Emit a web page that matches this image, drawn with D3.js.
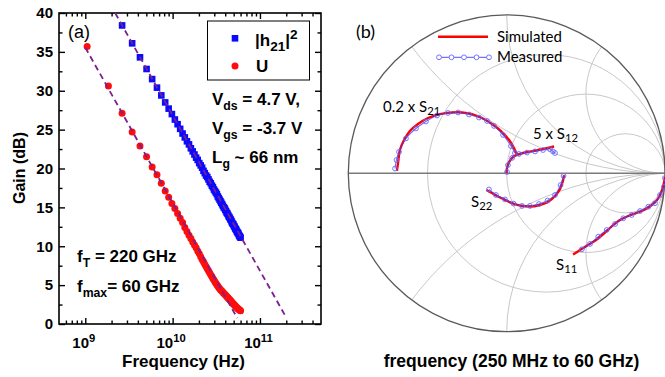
<!DOCTYPE html>
<html>
<head>
<meta charset="utf-8">
<script src="https://cdn.jsdelivr.net/npm/d3@7"></script>
<style>
  body { margin: 0; background: #fff; }
  svg { display: block; }
  .arial { font-family: "Liberation Sans", Arial, sans-serif; }
  .cal { font-family: Lato, "Open Sans", sans-serif; }
</style>
</head>
<body>
<svg id="fig" width="665" height="377"></svg>
<script>
// ---------- data: panel (a), sweep 250 MHz .. 60 GHz
const freq_ghz = [0.25, 1.05, 1.84, 2.64, 3.44, 4.23, 5.03, 5.83, 6.62, 7.42, 8.22, 9.01, 9.81, 10.61,
    11.40, 12.20, 13.00, 13.79, 14.59, 15.39, 16.18, 16.98, 17.78, 18.57, 19.37, 20.17, 20.96, 21.76,
    22.56, 23.35, 24.15, 24.95, 25.74, 26.54, 27.34, 28.13, 28.93, 29.73, 30.52, 31.32, 32.12, 32.91,
    33.71, 34.51, 35.30, 36.10, 36.90, 37.69, 38.49, 39.29, 40.08, 40.88, 41.68, 42.47, 43.27, 44.07,
    44.86, 45.66, 46.46, 47.25, 48.05, 48.85, 49.64, 50.44, 51.24, 52.03, 52.83, 53.63, 54.42, 55.22,
    56.02, 56.81, 57.61, 58.41, 59.20, 60.00]

// |h21|^2 (dB), null = above the plot
const h21_db = [null, null, null, 38.4, 36.1, 34.3, 32.8, 31.5, 30.4, 29.4, 28.5, 27.7, 27.0, 26.3,
    25.7, 25.1, 24.5, 24.0, 23.5, 23.1, 22.6, 22.2, 21.8, 21.4, 21.1, 20.7, 20.4, 20.1, 19.7, 19.4,
    19.1, 18.9, 18.6, 18.3, 18.1, 17.8, 17.6, 17.3, 17.1, 16.9, 16.7, 16.4, 16.2, 16.0, 15.8, 15.6,
    15.4, 15.2, 15.0, 14.9, 14.7, 14.5, 14.3, 14.2, 14.0, 13.8, 13.7, 13.5, 13.4, 13.2, 13.0, 12.9,
    12.8, 12.6, 12.5, 12.3, 12.2, 12.1, 11.9, 11.8, 11.7, 11.6, 11.4, 11.3, 11.2, 11.1]

// U (dB)
const u_db = [null, 35.7, 30.6, 27.1, 24.7, 22.9, 21.5, 20.2, 19.2, 18.1, 17.1, 16.3, 15.5, 14.85,
    14.2, 13.6, 13.05, 12.4, 11.9, 11.4, 11.0, 10.55, 10.15, 9.8, 9.4, 9.05, 8.65, 8.3, 8.0, 7.7,
    7.4, 7.1, 6.85, 6.6, 6.35, 6.1, 5.85, 5.65, 5.45, 5.25, 5.05, 4.9, 4.7, 4.55, 4.4, 4.3, 4.2,
    4.05, 3.95, 3.85, 3.75, 3.65, 3.55, 3.45, 3.35, 3.25, 3.15, 3.05, 2.95, 2.85, 2.75, 2.65, 2.6,
    2.5, 2.4, 2.35, 2.25, 2.2, 2.1, 2.05, 1.95, 1.9, 1.85, 1.8, 1.75, 1.7]

// -20 dB/dec extrapolations [GHz, dB]
const fit_h21 = [[2.2, 40], [200, 0.83]]
const fit_u = [[1.0, 35.56], [55, 0.76]]

const y_ticks = [0, 5, 10, 15, 20, 25, 30, 35, 40]
const x_ticks = [1e9, 1e10, 1e11]

// ---------- data: panel (b), reflection coefficient [re, im]
const s21_sim = [[-0.693, 0.015], [-0.686, 0.065], [-0.674, 0.147], [-0.648, 0.210], [-0.611, 0.267],
    [-0.560, 0.311], [-0.497, 0.349], [-0.421, 0.374], [-0.345, 0.384], [-0.282, 0.384], [-0.219, 0.374],
    [-0.156, 0.349], [-0.093, 0.311], [-0.036, 0.267], [0.015, 0.210], [0.046, 0.160], [0.065, 0.116]]
const s21_meas = [[-0.705, 0.030], [-0.696, 0.084], [-0.680, 0.135], [-0.636, 0.220], [-0.573, 0.283],
    [-0.510, 0.327], [-0.440, 0.365], [-0.371, 0.381], [-0.307, 0.384], [-0.238, 0.371], [-0.175, 0.352],
    [-0.124, 0.330], [-0.080, 0.299], [-0.023, 0.242], [0.027, 0.172], [0.052, 0.128]]

const s12_sim = [[-0.001, 0.002], [0.002, 0.033], [0.015, 0.071], [0.040, 0.103], [0.065, 0.116],
    [0.103, 0.128], [0.154, 0.138], [0.210, 0.150], [0.261, 0.160], [0.299, 0.169]]
const s12_meas = [[0.002, 0.008], [0.008, 0.052], [0.034, 0.097], [0.078, 0.122], [0.128, 0.131],
    [0.179, 0.138], [0.229, 0.147], [0.273, 0.153], [0.292, 0.138], [0.305, 0.128]]

const s22_sim = [[-0.128, -0.105], [-0.099, -0.121], [-0.061, -0.143], [-0.017, -0.165], [0.034, -0.188],
    [0.084, -0.203], [0.147, -0.210], [0.210, -0.200], [0.261, -0.181], [0.305, -0.143], [0.337, -0.099],
    [0.355, -0.049], [0.362, -0.011]]
const s22_meas = [[-0.112, -0.102], [-0.068, -0.137], [-0.011, -0.165], [0.043, -0.191], [0.097, -0.206],
    [0.147, -0.206], [0.204, -0.194], [0.258, -0.172], [0.305, -0.137], [0.340, -0.074], [0.359, -0.017]]

const s11_sim = [[0.419, -0.513], [0.463, -0.484], [0.513, -0.453], [0.564, -0.421], [0.614, -0.380],
    [0.665, -0.333], [0.715, -0.295], [0.766, -0.270], [0.816, -0.251], [0.867, -0.232], [0.911, -0.203],
    [0.949, -0.169], [0.974, -0.124], [0.990, -0.074], [0.999, -0.023]]
const s11_meas = [[0.474, -0.480], [0.526, -0.446], [0.578, -0.400], [0.631, -0.358], [0.684, -0.320],
    [0.736, -0.284], [0.789, -0.263], [0.842, -0.238], [0.894, -0.211], [0.936, -0.189], [0.968, -0.137],
    [0.993, -0.085], [0.999, -0.030]]

// smith grid values
const r_circles = [1 / 3, 1, 3]
const x_arcs = [0.5, 1, 2, -0.5, -1, -2]

const svg = d3.select("#fig")

// text with sub/superscript parts: [[str, "sub"|"sup"|null], ...]
function rich_text(parent, x, y, parts, size, {weight="normal", cls="arial", anchor="start", small=0.72, drop=0.3}={}) {
    let t = parent.append("text").attr("class", cls)
        .attr("x", x).attr("y", y).attr("fill", "#000")
        .attr("font-size", size).attr("font-weight", weight)
        .attr("text-anchor", anchor)
    let shift = 0
    parts.forEach(([s, kind]) => {
        let target = kind === "sub" ? size * drop : kind === "sup" ? -size * 0.42 : 0
        t.append("tspan")
            .attr("dy", target - shift)
            .attr("font-size", kind ? size * small : size)
            .text(s)
        shift = target
    })
    return t
}

// ================= panel (a)
const pa = svg.append("g")
const x = d3.scaleLog().domain([5e8, 5e11]).range([59, 321])
const y = d3.scaleLinear().domain([0, 40]).range([324, 13])

const minor_x = []
;[1e8, 1e9, 1e10, 1e11].forEach(d => {
    for (let m = 2; m <= 9; m++) {
        let v = m * d
        if (v > 5e8 && v < 5e11 && !x_ticks.includes(v)) minor_x.push(v)
    }
})
const minor_y = y_ticks.slice(0, -1).map(d => d + 2.5)

function style_axis(g) {
    g.select(".domain").remove()
    g.selectAll(".tick line").attr("stroke", "#000").attr("stroke-width", 1.4)
}

// left
pa.append("g").attr("transform", "translate(59,0)")
    .call(d3.axisLeft(y).tickValues(y_ticks).tickSize(-6).tickPadding(6))
    .call(style_axis)
    .call(g => g.selectAll(".tick text").attr("class", "arial")
        .attr("font-size", 15).attr("font-weight", "bold").attr("fill", "#000"))
pa.append("g").attr("transform", "translate(59,0)")
    .call(d3.axisLeft(y).tickValues(minor_y).tickSize(-3.5).tickFormat(""))
    .call(style_axis)
// right
pa.append("g").attr("transform", "translate(321,0)")
    .call(d3.axisRight(y).tickValues(y_ticks).tickSize(-6).tickFormat(""))
    .call(style_axis)
pa.append("g").attr("transform", "translate(321,0)")
    .call(d3.axisRight(y).tickValues(minor_y).tickSize(-3.5).tickFormat(""))
    .call(style_axis)
// bottom
pa.append("g").attr("transform", "translate(0,324)")
    .call(d3.axisBottom(x).tickValues(x_ticks).tickSize(-6).tickFormat(""))
    .call(style_axis)
    .call(g => g.selectAll(".tick").each(function(d) {
        rich_text(d3.select(this), -2, 24, [["10", null], [String(Math.round(Math.log10(d))), "sup"]],
            15, {weight: "bold", anchor: "middle", small: 0.75})
    }))
pa.append("g").attr("transform", "translate(0,324)")
    .call(d3.axisBottom(x).tickValues(minor_x).tickSize(-3.5).tickFormat(""))
    .call(style_axis)
// top
pa.append("g").attr("transform", "translate(0,13)")
    .call(d3.axisTop(x).tickValues(x_ticks).tickSize(-6).tickFormat(""))
    .call(style_axis)
pa.append("g").attr("transform", "translate(0,13)")
    .call(d3.axisTop(x).tickValues(minor_x).tickSize(-3.5).tickFormat(""))
    .call(style_axis)

pa.append("rect").attr("x", 59).attr("y", 13).attr("width", 262).attr("height", 311)
    .attr("fill", "none").attr("stroke", "#000").attr("stroke-width", 1.6)

// markers
const h21_pts = freq_ghz.map((f, i) => [f * 1e9, h21_db[i]]).filter(d => d[1] !== null)
const u_pts = freq_ghz.map((f, i) => [f * 1e9, u_db[i]]).filter(d => d[1] !== null)

pa.append("g").selectAll("rect").data(h21_pts).join("rect")
    .attr("x", d => x(d[0]) - 3.3).attr("y", d => y(d[1]) - 3.3)
    .attr("width", 6.6).attr("height", 6.6).attr("fill", "#0a0aff")
pa.append("g").selectAll("circle").data(u_pts).join("circle")
    .attr("cx", d => x(d[0])).attr("cy", d => y(d[1])).attr("r", 3.5).attr("fill", "#ff0d0d")

// extrapolation lines
const fit_line = d3.line().x(d => x(d[0] * 1e9)).y(d => y(d[1]))
;[fit_h21, fit_u].forEach(seg => {
    pa.append("path").attr("d", fit_line(seg))
        .attr("fill", "none").attr("stroke", "#7d1f8e").attr("stroke-width", 1.8)
        .attr("stroke-dasharray", "6,4")
})

// legend
pa.append("rect").attr("x", 207.5).attr("y", 21).attr("width", 102).attr("height", 59)
    .attr("fill", "#fff").attr("stroke", "#000").attr("stroke-width", 1)
pa.append("rect").attr("x", 231.7).attr("y", 35).attr("width", 6.6).attr("height", 6.6).attr("fill", "#0a0aff")
pa.append("circle").attr("cx", 235).attr("cy", 66).attr("r", 3.5).attr("fill", "#ff0d0d")
rich_text(pa, 255, 46, [["|h", null], ["21", "sub"], ["|", null], ["2", "sup"]], 17, {weight: "bold", small: 0.8})
rich_text(pa, 256, 72, [["U", null]], 17, {weight: "bold"})

// annotations
rich_text(pa, 68, 38, [["(a)", null]], 18)
rich_text(pa, 212, 105, [["V", null], ["ds", "sub"], [" = 4.7 V,", null]], 17, {weight: "bold"})
rich_text(pa, 212, 134, [["V", null], ["gs", "sub"], [" = -3.7 V", null]], 17, {weight: "bold"})
rich_text(pa, 212, 163, [["L", null], ["g", "sub"], [" ~ 66 nm", null]], 17, {weight: "bold"})
rich_text(pa, 77, 262, [["f", null], ["T", "sub"], [" = 220 GHz", null]], 17, {weight: "bold"})
rich_text(pa, 77, 292, [["f", null], ["max", "sub"], ["= 60 GHz", null]], 17, {weight: "bold"})

// axis titles
pa.append("text").attr("class", "arial").attr("transform", "translate(25,168) rotate(-90)")
    .attr("text-anchor", "middle").attr("font-size", 16).attr("font-weight", "bold").text("Gain (dB)")
pa.append("text").attr("class", "arial").attr("x", 183.5).attr("y", 367)
    .attr("text-anchor", "middle").attr("font-size", 17).attr("font-weight", "bold").text("Frequency (Hz)")

// ================= panel (b) smith chart
const pb = svg.append("g")
const sx = d3.scaleLinear().domain([-1, 1]).range([348.3, 665.1])
const sy = d3.scaleLinear().domain([-1, 1]).range([331.7, 14.9])
const R = sx(1) - sx(0)

svg.append("defs").append("clipPath").attr("id", "unit")
    .append("circle").attr("cx", sx(0)).attr("cy", sy(0)).attr("r", R)

const grid = pb.append("g").attr("clip-path", "url(#unit)")
    .attr("fill", "none").attr("stroke", "#c8c8c8").attr("stroke-width", 1)
grid.selectAll("circle.r").data(r_circles).join("circle").attr("class", "r")
    .attr("cx", r => sx(r / (r + 1))).attr("cy", sy(0)).attr("r", r => R / (r + 1))
grid.selectAll("circle.x").data(x_arcs).join("circle").attr("class", "x")
    .attr("cx", sx(1)).attr("cy", v => sy(1 / v)).attr("r", v => R / Math.abs(v))

pb.append("line").attr("x1", sx(-1)).attr("x2", sx(1)).attr("y1", sy(0)).attr("y2", sy(0))
    .attr("stroke", "#7a7a7a").attr("stroke-width", 1.6)
pb.append("circle").attr("cx", sx(0)).attr("cy", sy(0)).attr("r", R)
    .attr("fill", "none").attr("stroke", "#5a5a5a").attr("stroke-width", 1.3)

const s_smooth = d3.line().x(d => sx(d[0])).y(d => sy(d[1])).curve(d3.curveCatmullRom)

const traces = [[s21_sim, s21_meas], [s12_sim, s12_meas], [s22_sim, s22_meas], [s11_sim, s11_meas]]
traces.forEach(([sim, meas]) => {
    pb.append("path").attr("d", s_smooth(sim))
        .attr("fill", "none").attr("stroke", "#f00").attr("stroke-width", 2.4)
    pb.append("path").attr("d", s_smooth(meas))
        .attr("fill", "none").attr("stroke", "#3a3aff").attr("stroke-width", 1.1).attr("opacity", 0.75)
    pb.append("g").selectAll("circle").data(meas).join("circle")
        .attr("cx", d => sx(d[0])).attr("cy", d => sy(d[1])).attr("r", 2.4)
        .attr("fill", "none").attr("stroke", "#6464ff").attr("stroke-width", 0.9)
})

// legend
pb.append("line").attr("x1", 438).attr("x2", 488).attr("y1", 36.7).attr("y2", 36.7)
    .attr("stroke", "#f00").attr("stroke-width", 2.4)
const leg_meas = [439, 451.5, 464, 476.5, 489]
pb.append("line").attr("x1", 439).attr("x2", 489).attr("y1", 57.3).attr("y2", 57.3)
    .attr("stroke", "#5050ff").attr("stroke-width", 1)
pb.append("g").selectAll("circle").data(leg_meas).join("circle")
    .attr("cx", d => d).attr("cy", 57.3).attr("r", 2.4)
    .attr("fill", "#fff").attr("stroke", "#6464ff").attr("stroke-width", 0.9)
rich_text(pb, 497, 42, [["Simulated", null]], 15, {cls: "cal"})
rich_text(pb, 497, 62, [["Measured", null]], 15, {cls: "cal"})

// labels
const lab = {cls: "cal", small: 0.75, drop: 0.2}
rich_text(pb, 356, 38, [["(b)", null]], 18, {cls: "cal"})
rich_text(pb, 383, 112, [["0.2 x S", null], ["21", "sub"]], 15, lab)
rich_text(pb, 533, 139, [["5 x S", null], ["12", "sub"]], 15, lab)
rich_text(pb, 471, 207, [["S", null], ["22", "sub"]], 15, lab)
rich_text(pb, 556, 270, [["S", null], ["11", "sub"]], 15, lab)

pb.append("text").attr("class", "arial").attr("x", 511.5).attr("y", 367)
    .attr("text-anchor", "middle").attr("font-size", 17.5).attr("font-weight", "bold")
    .text("frequency (250 MHz to 60 GHz)")
</script>
</body>
</html>
